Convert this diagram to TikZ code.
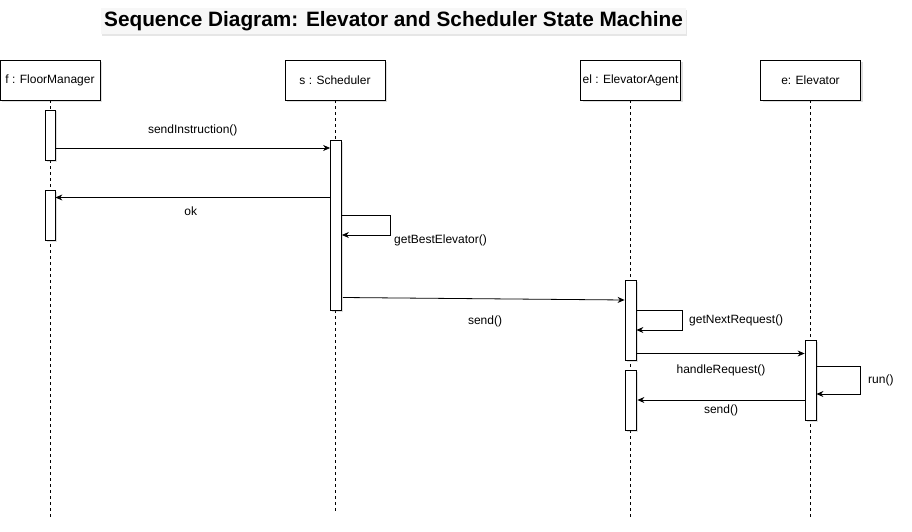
\documentclass[tikz,border=0pt]{standalone}
\usepackage{fontspec}
\setmainfont{Liberation Sans}
\usetikzlibrary{arrows.meta,shadows}
\begin{document}
\begin{tikzpicture}[x=1pt,y=-1pt,
  lifebox/.style={draw=black,fill=white,line width=0.9pt,minimum width=100pt,minimum height=40pt,inner sep=0pt,font=\fontsize{12}{14}\selectfont,drop shadow={shadow xshift=2pt,shadow yshift=-2pt,opacity=0.25}},
  actbar/.style={draw=black,fill=white,line width=0.8pt,minimum width=10pt,inner sep=0pt,drop shadow={shadow xshift=1.5pt,shadow yshift=-1.5pt,opacity=0.25}},
  lifeline/.style={draw=black,dash pattern=on 3pt off 3pt,line width=0.6pt},
  msg/.style={draw=black,line width=0.8pt,-{Stealth[length=7pt,width=6pt]}},
  lbl/.style={font=\fontsize{12}{14}\selectfont,inner sep=0pt}]
\useasboundingbox (0,0) rectangle (912,532);
% title
\node[fill=gray!6,inner xsep=3pt,inner ysep=3pt,font=\bfseries\fontsize{20.8}{24}\selectfont,drop shadow={shadow xshift=1pt,shadow yshift=-2pt,opacity=0.2}] (title) at (393.5,21) {Sequence Diagram: Elevator and Scheduler State Machine};
% lifeline heads
\node[lifebox] (f) at (50,80) {f : FloorManager};
\node[lifebox] (s) at (335,80) {s : Scheduler};
\node[lifebox] (el) at (630.5,80) {el : ElevatorAgent};
\node[lifebox] (e) at (810.5,80) {e: Elevator};
% lifeline ends
\coordinate (fend) at (50,517);
\coordinate (send) at (335,512);
\coordinate (elend) at (630.5,517);
\coordinate (eend) at (810.5,517);
\draw[lifeline] (f.south) -- (fend);
\draw[lifeline] (s.south) -- (send);
\draw[lifeline] (el.south) -- (elend);
\draw[lifeline] (e.south) -- (eend);
% activation bars
\node[actbar,minimum height=50pt] (fa1) at (50,135) {};
\node[actbar,minimum height=50pt] (fa2) at (50,215) {};
\node[actbar,minimum height=170pt,minimum width=11pt] (sa) at (336,225) {};
\node[actbar,minimum height=80pt,minimum width=11pt] (ela1) at (630.5,320) {};
\node[actbar,minimum height=60pt,minimum width=11pt] (ela2) at (630.5,400) {};
\node[actbar,minimum height=80pt,minimum width=11pt] (ea) at (810.5,380) {};
% messages
\draw[msg] (fa1.east |- 0,148) -- node[lbl,above=12pt] {sendInstruction()} (sa.west |- 0,148);
\draw[msg] (sa.west |- 0,197.5) -- node[lbl,below=9pt,xshift=-2pt] {ok} (fa2.east |- 0,197.5);
\draw[msg] (sa.east |- 0,215) -- (390,215) -- (390,235) -- (sa.east |- 0,235);
\node[lbl,anchor=west] (gbe) at (394,240) {getBestElevator()};
\draw[msg] ([xshift=1pt]sa.east |- 0,297.5) -- ([yshift=20pt]ela1.west);
\node[lbl] (sendl) at (485,321) {send()};
\draw[msg] (ela1.east |- 0,310.5) -- (682,310.5) -- (682,330) -- (ela1.east |- 0,330);
\node[lbl,anchor=west] (gnr) at (689,320) {getNextRequest()};
\draw[msg] ([xshift=1pt]ela1.east |- 0,353.5) -- (ea.west |- 0,353.5);
\node[lbl] (hr) at (721,370) {handleRequest()};
\draw[msg] (ea.east |- 0,366.5) -- (860,366.5) -- (860,394) -- (ea.east |- 0,394);
\node[lbl,anchor=west] (run) at (868,380) {run()};
\draw[msg] (ea.west |- 0,400) -- ([xshift=1pt]ela2.east |- 0,400);
\node[lbl] (send2) at (721,410) {send()};
\end{tikzpicture}
\end{document}
